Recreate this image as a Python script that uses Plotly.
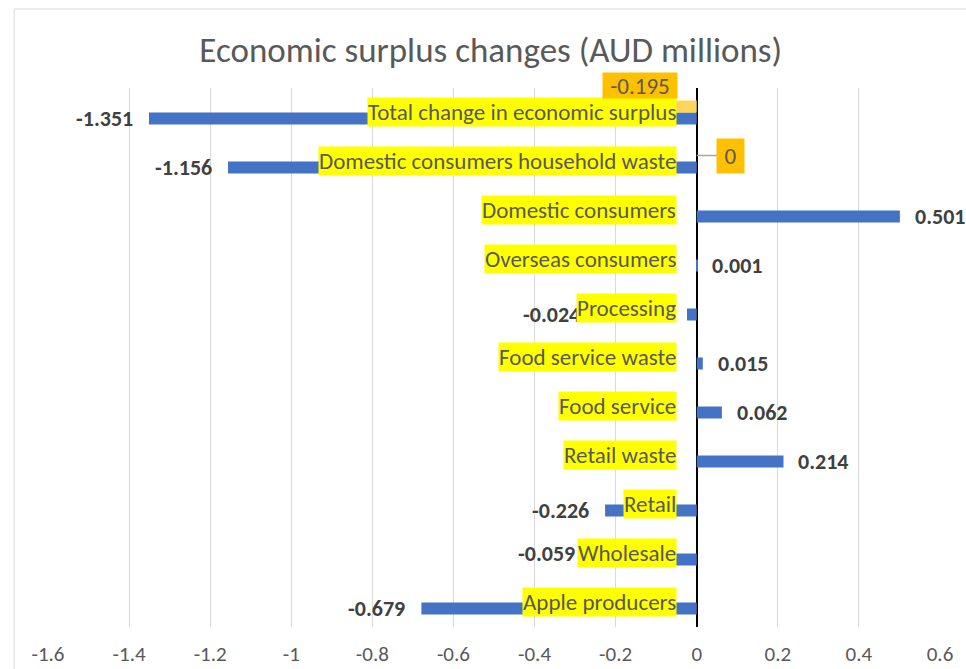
import plotly.graph_objects as go

categories = ["Apple producers", "Wholesale", "Retail", "Retail waste", "Food service",
              "Food service waste", "Processing", "Overseas consumers", "Domestic consumers",
              "Domestic consumers household waste", "Total change in economic surplus"]
blue_values = [-0.679, -0.059, -0.226, 0.214, 0.062, 0.015, -0.024, 0.001, 0.501, -1.156, -1.351]
orange_values = [None, None, None, None, None, None, None, None, None, 0, -0.195]
tick_vals = [-1.6, -1.4, -1.2, -1.0, -0.8, -0.6, -0.4, -0.2, 0, 0.2, 0.4, 0.6]
tick_text = ["-1.6", "-1.4", "-1.2", "-1", "-0.8", "-0.6", "-0.4", "-0.2", "0", "0.2", "0.4", "0.6"]
title_text = "Economic surplus changes (AUD millions)"

FONT = "Carlito, Lato, sans-serif"
BLUE = "#4472C4"
ORANGE_BAR = "#FFD45A"
ORANGE_LBL = "#FFC000"
TXT = "#595959"

fig = go.Figure()
fig.add_trace(go.Bar(y=categories, x=blue_values, orientation="h", marker_color=BLUE,
                     marker_line_width=0, hoverinfo="x+y"))
fig.add_trace(go.Bar(y=categories, x=orange_values, orientation="h", marker_color=ORANGE_BAR,
                     marker_line_width=0, hoverinfo="x+y"))

ann = []
# value labels for blue series (drawn first so category labels sit on top)
override_shift = {"Processing": -105, "Wholesale": -96}
override_y = {"Wholesale": 6}
for c, v in zip(categories, blue_values):
    neg = v < 0
    xs = override_shift.get(c, -14 if neg else 13)
    ann.append(dict(x=v, y=c, xref="x", yref="y", text=f"{v:.3f}",
                    showarrow=False, xanchor="right" if neg else "left", xshift=xs,
                    yshift=-6 + override_y.get(c, 0),
                    font=dict(family=FONT, size=22, color="#404040", weight="bold")))

# category labels with yellow highlight
for c in categories:
    ann.append(dict(x=0, y=c, xref="x", yref="y", text=c, showarrow=False, xanchor="right",
                    xshift=-20, yshift=1, bgcolor="#FFFF00", borderpad=0,
                    font=dict(family=FONT, size=23, color=TXT)))

# orange labels
ann.append(dict(x=0, y=categories[10], xref="x", yref="y", text=f"{orange_values[10]:.3f}",
                showarrow=False, xanchor="right", xshift=-19, yshift=27, bgcolor=ORANGE_LBL,
                borderpad=0, width=74, height=25,
                font=dict(family=FONT, size=23, color=TXT)))
ann.append(dict(x=0, y=categories[9], xref="x", yref="y", text=f"{orange_values[9]}",
                showarrow=True, arrowhead=0, arrowwidth=1.5, arrowcolor="#A6A6A6",
                ax=34, ay=0, yshift=6, standoff=0, bgcolor=ORANGE_LBL, borderpad=0,
                width=27, height=34,
                font=dict(family=FONT, size=23, color=TXT)))

fig.update_layout(
    width=966, height=669,
    margin=dict(l=48, r=26, t=88, b=42, autoexpand=False),
    paper_bgcolor="white", plot_bgcolor="white",
    barmode="group", bargap=0.51, bargroupgap=0,
    showlegend=False,
    title=dict(text=title_text, xref="container", x=0.508, xanchor="center",
               y=0.925, yanchor="middle",
               font=dict(family=FONT, size=35, color=TXT)),
    xaxis=dict(range=[-1.6, 0.6], tickvals=tick_vals, ticktext=tick_text,
               showgrid=True, gridcolor="#D9D9D9", gridwidth=1,
               zeroline=True, zerolinecolor="#000000", zerolinewidth=1.6,
               showline=False, ticks="", ticklabelstandoff=12, automargin=False,
               tickfont=dict(family=FONT, size=21, color=TXT), fixedrange=True),
    yaxis=dict(showticklabels=False, showgrid=False, zeroline=False, showline=False,
               automargin=False, range=[-0.5, 10.5],
               categoryorder="array", categoryarray=categories, fixedrange=True),
    annotations=ann,
    shapes=[dict(type="rect", xref="paper", yref="paper", x0=-0.038, x1=1.2, y0=-0.3, y1=1.1466,
                 line=dict(color="#D9D9D9", width=1), fillcolor="rgba(0,0,0,0)", layer="below")],
)

fig.write_html("out.html")
